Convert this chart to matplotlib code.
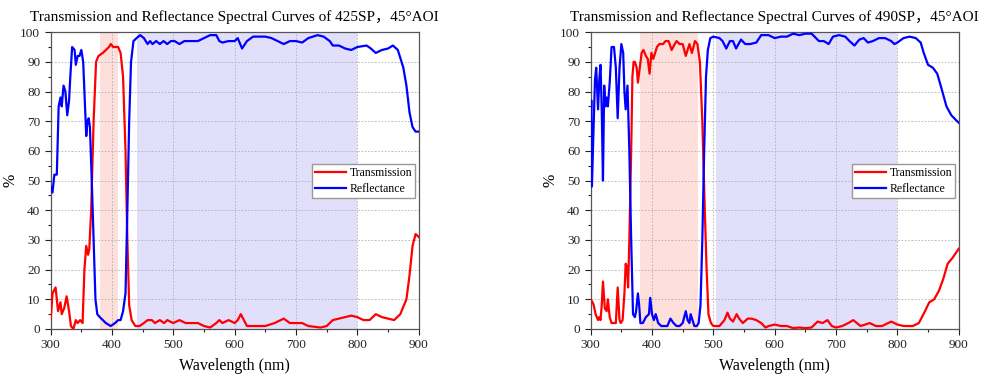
import numpy as np
import matplotlib
matplotlib.use("Agg")
import matplotlib.pyplot as plt
from matplotlib.ticker import MultipleLocator

plt.rcParams['font.family'] = ['Liberation Serif', 'Noto Sans CJK SC']

# ---- 425SP ----
t1_wl = [300, 303, 308, 312, 316, 318, 322, 326, 330, 333, 337, 341, 344, 348, 352, 355, 358, 361, 363, 366,
         370, 374, 378, 385, 390, 395, 398, 402, 410, 414, 418, 422, 425, 428, 432, 438, 445, 452, 458, 465,
         470, 478, 485, 490, 500, 510, 520, 540, 550, 560, 570, 575, 580, 590, 600, 605, 610, 615, 620, 640,
         650, 665, 680, 690, 700, 710, 720, 740, 750, 760, 770, 780, 790, 800, 810, 820, 830, 840, 850, 860,
         870, 880, 885, 890, 895, 900]
t1_val = [3, 12, 14, 6, 9, 5, 7, 11, 6, 1, 0, 3, 2, 3, 2, 20, 28, 25, 27, 40,
          70, 90, 92, 93, 94, 95, 96, 95, 95, 93, 85, 60, 30, 8, 3, 1, 1, 2, 3, 3,
          2, 3, 2, 3, 2, 3, 2, 2, 1, 0.5, 2, 3, 2, 3, 2, 3, 5, 3, 1, 1,
          1, 2, 3.5, 2, 2, 2, 1, 0.5, 1, 3, 3.5, 4, 4.5, 4, 3, 3, 5, 4, 3.5, 3,
          5, 10, 18, 28, 32, 31]
r1_wl = [300, 303, 306, 310, 313, 316, 318, 321, 324, 327, 330, 332, 335, 339, 341, 344, 347, 350, 353, 356,
         358, 360, 362, 364, 367, 370, 373, 376, 380, 385, 390, 398, 405, 410, 414, 418, 422, 425, 428, 431,
         435, 440, 446, 452, 458, 462, 466, 472, 478, 484, 490, 496, 502, 510, 518, 530, 540, 550, 560, 570,
         575, 580, 590, 600, 605, 612, 620, 630, 650, 660, 670, 680, 690, 700, 710, 720, 735, 745, 755, 760,
         770, 780, 790, 800, 815, 822, 830, 840, 850, 858, 866, 875, 880, 885, 890, 895, 900]
r1_val = [48, 46, 52, 52, 75, 78, 75, 82, 80, 72, 77, 85, 95, 94, 89, 92, 92, 94, 90, 75,
          65, 70, 71, 68, 50, 30, 10, 5, 4, 3, 2, 1, 2, 3, 3, 6, 12, 40, 70, 90,
          97, 98, 99, 98, 96, 97, 96, 97, 96, 97, 96, 97, 97, 96, 97, 97, 97, 98, 99, 99,
          97, 96.5, 97, 97, 98, 94.5, 97, 98.5, 98.5, 98, 97, 96, 97, 97, 96.5, 98, 99, 98.5, 97, 95.5,
          95.5, 94.5, 94, 95, 95.5, 94.5, 93, 94, 94.5, 95.5, 94, 88, 82, 73, 68, 66.5, 66.5]

# ---- 490SP ----
t2_wl = [300, 303, 305, 308, 310, 312, 314, 316, 318, 320, 323, 326, 328, 331, 334, 338, 341, 344, 347, 349,
         352, 355, 357, 359, 361, 363, 366, 368, 370, 372, 375, 377, 380, 383, 386, 390, 393, 396, 399, 402,
         405, 408, 412, 418, 422, 427, 432, 437, 440, 445, 450, 455, 458, 461, 465, 470, 474, 478, 482, 486,
         489, 492, 496, 500, 510, 518, 523, 527, 532, 538, 542, 548, 556, 562, 570, 578, 585, 590, 600, 610,
         620, 630, 640, 650, 660, 670, 678, 686, 693, 700, 710, 720, 728, 740, 755, 765, 775, 790, 800, 810,
         825, 835, 845, 852, 860, 868, 875, 882, 890, 900]
t2_val = [10, 9, 8, 5, 4, 3, 4, 3, 8, 16, 7, 6, 10, 4, 2, 2, 2, 14, 3, 2,
          3, 12, 22, 21, 14, 30, 60, 85, 90, 90, 88, 83, 88, 93, 94, 92, 91, 86, 93, 91,
          93, 95, 96, 96, 97, 97, 94, 96, 97, 96, 96, 92, 94, 96, 93, 97, 96, 90, 70, 40,
          20, 5, 2, 1, 1, 3, 5.5, 3.5, 2.5, 5, 3.5, 2, 3.5, 3.5, 3, 2, 0.5, 1, 1.5, 1,
          1, 0.3, 0.5, 0.3, 0.5, 2.5, 2, 3, 1, 0.5, 1, 2, 3, 1, 2, 1, 1, 2.5, 1.5, 1,
          1, 2, 6, 9, 10, 13, 17, 22, 24, 27]
r2_wl = [300, 301, 302, 305, 307, 309, 312, 314, 316, 318, 320, 322, 324, 326, 328, 331, 334, 338, 341, 344,
         347, 350, 353, 355, 357, 360, 363, 366, 369, 372, 374, 377, 379, 381, 385, 390, 395, 397, 400, 403,
         406, 410, 415, 420, 425, 430, 435, 440, 445, 450, 455, 458, 461, 463, 466, 469, 473, 476, 479, 482,
         485, 488, 491, 495, 500, 510, 515, 521, 527, 532, 537, 545, 552, 560, 570, 578, 590, 600, 610, 620,
         630, 640, 650, 660, 665, 672, 680, 688, 695, 705, 715, 722, 730, 738, 745, 752, 760, 770, 780, 790,
         795, 800, 810, 820, 830, 838, 843, 850, 858, 865, 872, 880, 888, 895, 900]
r2_val = [70, 77, 48, 70, 84, 88, 74, 84, 89, 74, 50, 82, 75, 78, 75, 83, 95, 95, 88, 71,
          88, 96, 93, 80, 74, 82, 60, 30, 5, 4, 6, 12, 8, 2, 2, 4, 5, 10.5, 5, 3,
          5, 2, 1, 1, 1, 3.5, 2, 1, 1, 2, 6, 3, 2, 5, 3, 1, 1, 2, 8, 30,
          60, 85, 94, 98, 98.5, 98, 97, 94.5, 97, 97, 94.5, 97.5, 96, 96, 96.5, 99, 99, 98, 98.5, 98.5,
          99.5, 99, 99.5, 99.5, 98.5, 97, 97, 96, 98.5, 99, 98.5, 97, 95.5, 97.5, 98, 96.5, 97, 98, 98, 97,
          96, 96.5, 98, 98.5, 98, 96.5, 93, 89, 88, 86, 81, 75, 72, 70.5, 69.5]

panels = [
    ("425SP", t1_wl, t1_val, r1_wl, r1_val, (380, 410), (440, 800)),
    ("490SP", t2_wl, t2_val, r2_wl, r2_val, (380, 475), (505, 800)),
]

fig = plt.figure(figsize=(9.84, 3.83), dpi=100)
lefts = [0.0515, 0.6003]

for left, (name, twl, tv, rwl, rv, red_band, blue_band) in zip(lefts, panels):
    ax = fig.add_axes([left, 0.141, 0.374, 0.775])
    ax.axvspan(*red_band, color='#fde0dc', lw=0, zorder=0)
    ax.axvspan(*blue_band, color='#e2dffb', lw=0, zorder=0)
    ax.plot(twl, tv, color='#ff0000', lw=1.6, label='Transmission', zorder=3)
    ax.plot(rwl, rv, color='#0000ff', lw=1.6, label='Reflectance', zorder=3)
    ax.set_xlim(300, 900)
    ax.set_ylim(0, 100)
    ax.xaxis.set_major_locator(MultipleLocator(100))
    ax.xaxis.set_minor_locator(MultipleLocator(50))
    ax.yaxis.set_major_locator(MultipleLocator(10))
    ax.yaxis.set_minor_locator(MultipleLocator(5))
    ax.grid(True, which='major', linestyle=(0, (2, 2)), color='#b0b0b0', lw=0.6)
    ax.tick_params(which='both', direction='out', labelsize=9.5, width=0.8, colors='#222222')
    ax.tick_params(which='major', length=4)
    ax.tick_params(which='minor', length=2.5)
    for s in ax.spines.values():
        s.set_color('#555555')
        s.set_linewidth(0.9)
    ax.set_xlabel('Wavelength (nm)', fontsize=11.5, labelpad=5)
    ax.set_ylabel('%', fontsize=11.5, labelpad=1)
    ax.set_title(f'Transmission and Reflectance Spectral Curves of {name}，45°AOI',
                 fontsize=11, pad=8)
    ax.legend(loc='upper right', bbox_to_anchor=(0.99, 0.555), fontsize=8.5,
              frameon=True, fancybox=False, edgecolor='#999999', framealpha=1,
              borderpad=0.25, handlelength=2.6, handletextpad=0.3, labelspacing=0.3,
              borderaxespad=0)

fig.savefig('out.png', dpi=100)
